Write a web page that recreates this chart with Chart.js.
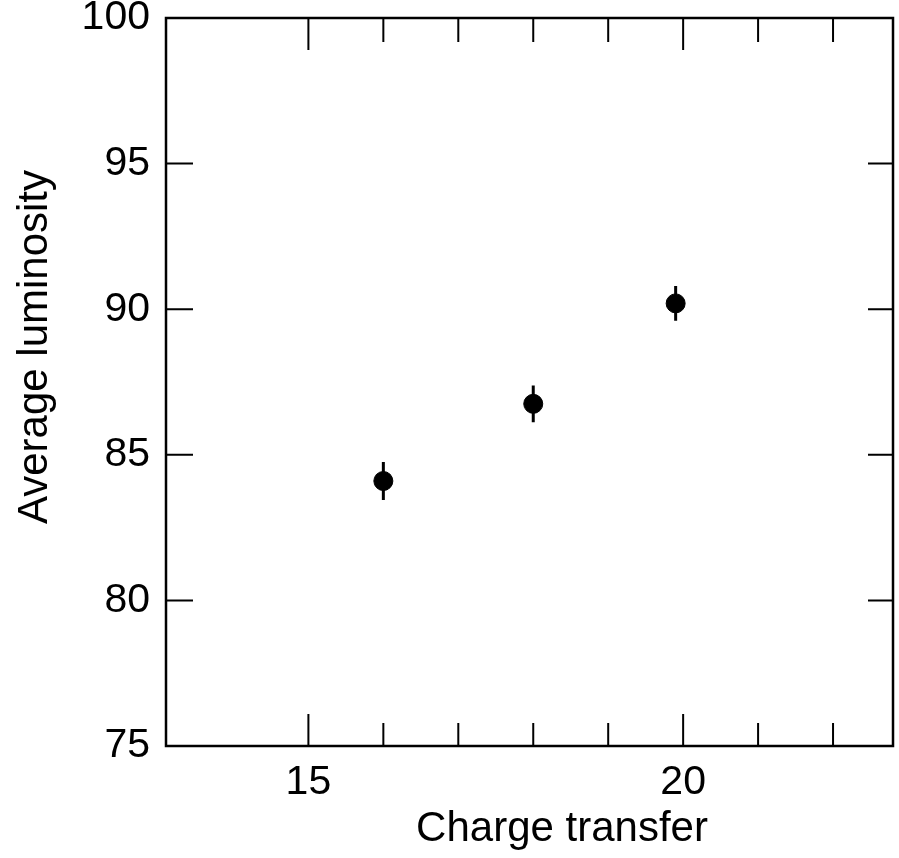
<!DOCTYPE html>
<html>
<head>
<meta charset="utf-8">
<script src="https://cdn.jsdelivr.net/npm/chart.js@4"></script>
<style>
  html, body { margin: 0; padding: 0; background: #fff; }
  #wrap { width: 899px; height: 858px; }
</style>
</head>
<body>
<div id="wrap"><canvas id="lumChart" width="899" height="858"></canvas></div>
<script>
// values
const chargeTransfer = [16.0, 18.0, 19.9];
const avgLuminosity = [84.1, 86.75, 90.2];
const errLuminosity = [0.65, 0.63, 0.6];

const xLabelTicks = [15, 20];
const xMinorTicks = [16, 17, 18, 19, 21, 22];
const yTicks = [75, 80, 85, 90, 95, 100];

const xTitle = "Charge transfer";
const yTitle = "Average luminosity";

const FONT = "'Liberation Sans', Arial, Helvetica, sans-serif";

// frame, inward ticks, error bars, axis titles
const framePlugin = {
  id: "frame",
  afterDatasetsDraw(chart) {
    const ctx = chart.ctx;
    const a = chart.chartArea;
    const xs = chart.scales.x;
    const ys = chart.scales.y;
    ctx.save();
    ctx.strokeStyle = "#000";
    ctx.lineWidth = 2.5;
    ctx.strokeRect(a.left, a.top, a.right - a.left, a.bottom - a.top);

    ctx.lineWidth = 2;
    ctx.beginPath();
    xLabelTicks.forEach(v => {
      const px = xs.getPixelForValue(v);
      ctx.moveTo(px, a.bottom); ctx.lineTo(px, a.bottom - 32);
      ctx.moveTo(px, a.top); ctx.lineTo(px, a.top + 32);
    });
    xMinorTicks.forEach(v => {
      const px = xs.getPixelForValue(v);
      ctx.moveTo(px, a.bottom); ctx.lineTo(px, a.bottom - 23);
      ctx.moveTo(px, a.top); ctx.lineTo(px, a.top + 24);
    });
    yTicks.slice(1, -1).forEach(v => {
      const py = ys.getPixelForValue(v);
      ctx.moveTo(a.left, py); ctx.lineTo(a.left + 27, py);
      ctx.moveTo(a.right, py); ctx.lineTo(a.right - 25, py);
    });
    ctx.stroke();

    // error bars
    ctx.lineWidth = 3;
    ctx.beginPath();
    chargeTransfer.forEach((x, i) => {
      const px = xs.getPixelForValue(x);
      ctx.moveTo(px, ys.getPixelForValue(avgLuminosity[i] - errLuminosity[i]));
      ctx.lineTo(px, ys.getPixelForValue(avgLuminosity[i] + errLuminosity[i]));
    });
    ctx.stroke();

    // axis titles
    ctx.fillStyle = "#000";
    ctx.font = "42px " + FONT;
    ctx.textAlign = "center";
    ctx.textBaseline = "middle";
    ctx.fillText(xTitle, 562, 829);
    ctx.translate(35, 347);
    ctx.rotate(-Math.PI / 2);
    ctx.fillText(yTitle, 0, 0);
    ctx.restore();
  }
};

new Chart(document.getElementById("lumChart"), {
  type: "scatter",
  data: {
    datasets: [{
      data: chargeTransfer.map((x, i) => ({ x: x, y: avgLuminosity[i] })),
      backgroundColor: "#000",
      borderColor: "#000",
      borderWidth: 1,
      pointRadius: 9.5,
      showLine: false
    }]
  },
  options: {
    responsive: false,
    animation: false,
    layout: { autoPadding: false, padding: { left: 0, top: 18, right: 6, bottom: 0 } },
    plugins: { legend: { display: false }, tooltip: { enabled: false } },
    scales: {
      x: {
        type: "linear",
        min: 13.1,
        max: 22.8,
        grid: { display: false, drawTicks: false },
        border: { display: false },
        afterBuildTicks: s => { s.ticks = xLabelTicks.map(v => ({ value: v })); },
        afterFit: s => { s.height = 112; s.paddingLeft = 0; s.paddingRight = 0; },
        ticks: { color: "#000", padding: 12, font: { size: 41, family: FONT } }
      },
      y: {
        min: 75,
        max: 100,
        grid: { display: false, drawTicks: false },
        border: { display: false },
        afterBuildTicks: s => { s.ticks = yTicks.map(v => ({ value: v })); },
        afterFit: s => { s.width = 166; s.paddingTop = 0; s.paddingBottom = 0; },
        ticks: { color: "#000", padding: 16, font: { size: 41, family: FONT } }
      }
    }
  },
  plugins: [framePlugin]
});
</script>
</body>
</html>
